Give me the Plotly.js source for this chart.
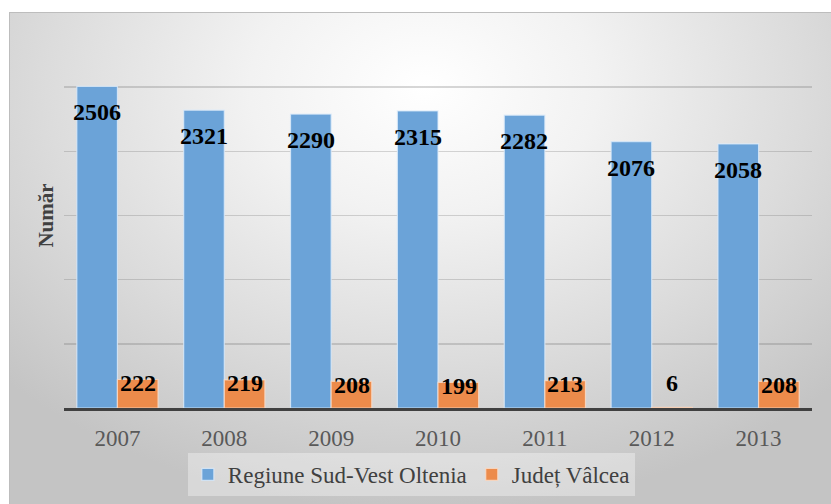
<!DOCTYPE html>
<html>
<head>
<meta charset="utf-8">
<script src="https://cdn.plot.ly/plotly-3.0.1.min.js"></script>
<style>
  html, body { margin:0; padding:0; background:#ffffff; }
  #wrap { position:relative; width:831px; height:504px; overflow:hidden; }
  #frame { position:absolute; left:9px; top:12px; width:830px; height:500px;
    border:1px solid #bdbdbd; box-sizing:border-box;
    background: radial-gradient(ellipse 70% 85% at 50% 15%, #ffffff 0%, #f2f2f2 30%, #dcdcdc 65%, #c4c4c4 100%); }
  #chart { position:absolute; left:0; top:0; width:831px; height:504px; }
</style>
</head>
<body>
<div id="wrap">
  <div id="frame"></div>
  <div id="chart"></div>
</div>
<script>
const years = ['2007','2008','2009','2010','2011','2012','2013'];
const regiune = [2506, 2321, 2290, 2315, 2282, 2076, 2058];
const valcea = [222, 219, 208, 199, 213, 6, 208];
const seriesNames = ['Regiune Sud-Vest Oltenia', 'Județ Vâlcea'];

const FONT = '"Liberation Serif", "Times New Roman", serif';

const traces = [
  { type:'bar', name:seriesNames[0], x:years, y:regiune,
    marker:{ color:'#6ba3d8', line:{ color:'rgba(220,235,250,0.8)', width:1.2 } },
    hoverinfo:'none' },
  { type:'bar', name:seriesNames[1], x:years, y:valcea,
    marker:{ color:'#ec8b4b', line:{ color:'rgba(250,220,200,0.8)', width:1.2 } },
    hoverinfo:'none' }
];

const annotations = [];
years.forEach((yr, i) => {
  annotations.push({ x:i, y:regiune[i], xref:'x', yref:'y', text:String(regiune[i]),
    showarrow:false, xshift:-20.5, yshift:-26, yanchor:'middle',
    font:{ family:FONT, size:24, color:'#000000', weight:'bold' } });
  annotations.push({ x:i, y:valcea[i], xref:'x', yref:'y', text:String(valcea[i]),
    showarrow:false, xshift:20.5, yshift:(valcea[i] < 50 ? 24 : -3.5), yanchor:'middle',
    font:{ family:FONT, size:24, color:'#000000', weight:'bold' } });
});

const layout = {
  width:831, height:504,
  paper_bgcolor:'rgba(0,0,0,0)', plot_bgcolor:'rgba(0,0,0,0)',
  margin:{ l:64, r:19, t:22.5, b:96, pad:0 },
  barmode:'group', bargap:0.24, bargroupgap:0,
  font:{ family:FONT, color:'#595959' },
  showlegend:true,
  xaxis:{ type:'category', categoryorder:'array', categoryarray:years,
    range:[-0.5, years.length - 0.5], autorange:false,
    showgrid:false, zeroline:false,
    showline:true, linecolor:'#404040', linewidth:3, ticks:'',
    tickfont:{ family:FONT, size:23, color:'#595959' }, ticklabelstandoff:7 },
  yaxis:{ range:[0,3000], autorange:false, dtick:500, tick0:0, showticklabels:false, ticks:'',
    showgrid:true, gridcolor:'rgba(110,110,110,0.28)', gridwidth:1.5, zeroline:false,
    title:{ text:'Număr', standoff:3, font:{ family:FONT, size:21, color:'#404040', weight:'bold' } } },
  legend:{ orientation:'h', xref:'container', x:0.495, xanchor:'center', yref:'container', y:0.016, yanchor:'bottom',
    bgcolor:'rgba(255,255,255,0.35)', borderwidth:0,
    font:{ family:FONT, size:23, color:'#404040' }, itemwidth:30, traceorder:'normal' },
  annotations:annotations
};

Plotly.newPlot('chart', traces, layout, { staticPlot:true, displayModeBar:false });
</script>
</body>
</html>
